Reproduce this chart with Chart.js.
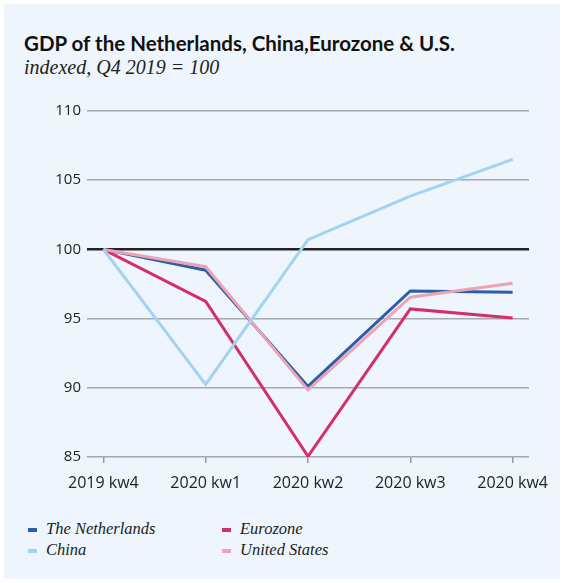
<!DOCTYPE html>
<html>
<head>
<meta charset="utf-8">
<script src="https://cdn.jsdelivr.net/npm/chart.js@4"></script>
<style>
    html, body { margin: 0; padding: 0; background: #ffffff; }
    #kader {
        position: absolute; left: 4px; top: 4px; width: 556px; height: 575px;
        background: #eef5fc;
    }
    #titel {
        position: absolute; left: 24px; top: 31px;
        font: bold 20.5px Lato, "Open Sans", sans-serif; color: #111;
    }
    #subtitel {
        position: absolute; left: 24px; top: 56px;
        font: italic 20px "Liberation Serif", serif; color: #222;
    }
    #grafiek { position: absolute; left: 0; top: 95px; width: 566px; height: 402px; }
    .legenda { position: absolute; font: italic 16.5px "Liberation Serif", serif; color: #222; }
    .legenda span {
        display: inline-block; width: 9px; height: 3.5px; margin-right: 9px; vertical-align: middle;
    }
</style>
</head>
<body>
<div id="kader"></div>
<div id="titel">GDP of the Netherlands, China,Eurozone &amp; U.S.</div>
<div id="subtitel">indexed, Q4 2019 = 100</div>
<div id="grafiek"><canvas id="bbp"></canvas></div>
<div id="legenda"></div>
<script>
const kwartalen = ["2019 kw4", "2020 kw1", "2020 kw2", "2020 kw3", "2020 kw4"];
const nederland = [100, 98.5, 90.1, 97.0, 96.9];
const china = [100, 90.25, 100.7, 103.85, 106.5];
const eurozone = [100, 96.25, 85.05, 95.7, 95.05];
const verenigdeStaten = [100, 98.75, 89.85, 96.55, 97.55];
const yTicks = [85, 90, 95, 100, 105, 110];

function punten(reeks) {
    return reeks.map((v, i) => ({ x: i, y: v }));
}

const reeksen = [
    { label: "The Netherlands", data: nederland, kleur: "#2b5ea6", links: 28, boven: 519 },
    { label: "China", data: china, kleur: "#a3d2f3", links: 28, boven: 540 },
    { label: "Eurozone", data: eurozone, kleur: "#d3306a", links: 222, boven: 519 },
    { label: "United States", data: verenigdeStaten, kleur: "#eea2b5", links: 222, boven: 540 }
];

// volgorde van tekenen: lichte lijnen onder, donkere erboven
const tekenVolgorde = ["China", "United States", "Eurozone", "The Netherlands"];

document.addEventListener("DOMContentLoaded", () => {
    const legenda = document.getElementById("legenda");
    reeksen.forEach(r => {
        const div = document.createElement("div");
        div.className = "legenda";
        div.style.left = r.links + "px";
        div.style.top = r.boven + "px";
        div.innerHTML = `<span style="background:${r.kleur}"></span>${r.label}`;
        legenda.appendChild(div);
    });

    new Chart(document.getElementById("bbp"), {
        type: "line",
        data: {
            datasets: tekenVolgorde.map(naam => {
                const r = reeksen.find(x => x.label === naam);
                return {
                    label: r.label,
                    data: punten(r.data),
                    borderColor: r.kleur,
                    backgroundColor: r.kleur,
                    borderWidth: 3,
                    pointRadius: 0,
                    tension: 0
                };
            })
        },
        options: {
            responsive: true,
            maintainAspectRatio: false,
            animation: false,
            layout: { padding: { left: 0, right: 37, top: 16, bottom: 0 } },
            plugins: {
                legend: { display: false },
                tooltip: { enabled: false }
            },
            scales: {
                x: {
                    type: "linear",
                    min: -0.16,
                    max: 4.16,
                    afterFit(scale) { scale.height = 40; },
                    afterBuildTicks(scale) {
                        scale.ticks = kwartalen.map((_, i) => ({ value: i }));
                    },
                    ticks: {
                        callback: (v) => kwartalen[v],
                        font: { family: "Open Sans", size: 16 },
                        color: "#222",
                        padding: 11,
                        maxRotation: 0,
                        autoSkip: false
                    },
                    grid: {
                        drawOnChartArea: false,
                        drawTicks: true,
                        tickLength: 6,
                        color: "#999",
                        lineWidth: 1.5
                    },
                    border: { display: false }
                },
                y: {
                    min: 85,
                    max: 110,
                    afterFit(scale) { scale.width = 87; },
                    afterBuildTicks(scale) {
                        scale.ticks = yTicks.map(v => ({ value: v }));
                    },
                    ticks: {
                        font: { family: "Open Sans", size: 15 },
                        color: "#222",
                        padding: 6
                    },
                    grid: {
                        drawTicks: false,
                        color: (ctx) => ctx.tick && ctx.tick.value === 100 ? "#222" : "#a7aaad",
                        lineWidth: (ctx) => ctx.tick && ctx.tick.value === 100 ? 2.5 : 1.5
                    },
                    border: { display: false }
                }
            }
        }
    });
});
</script>
</body>
</html>
